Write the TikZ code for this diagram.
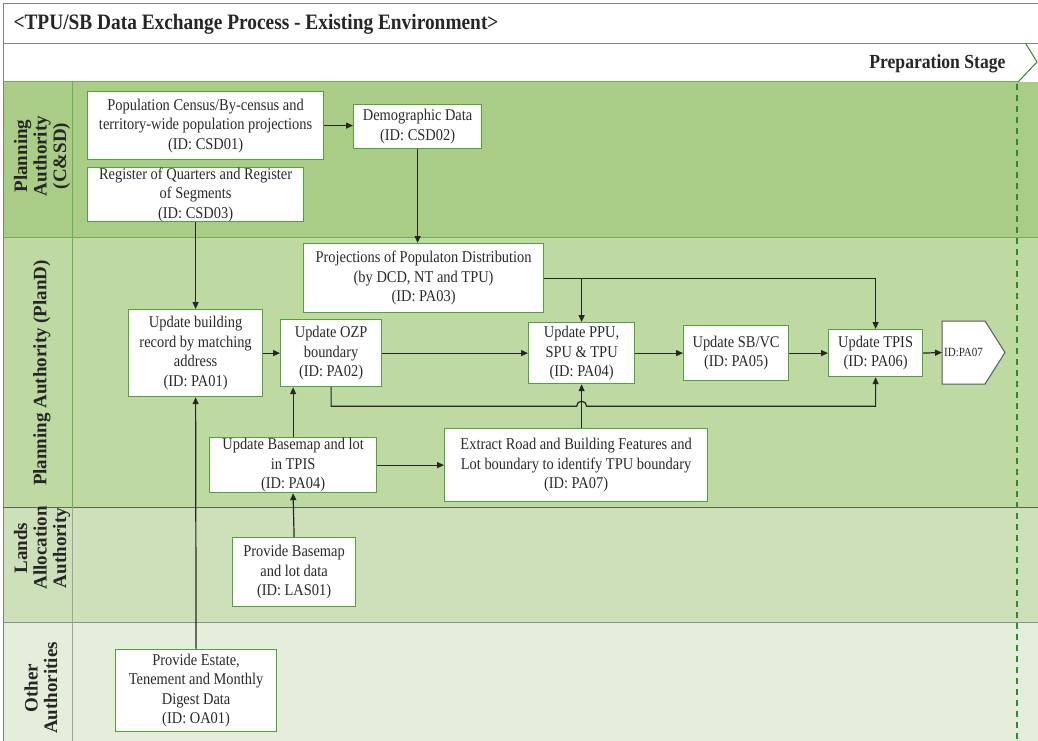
\documentclass[tikz,border=0pt]{standalone}
\usepackage{fontspec}
\setmainfont{Liberation Serif}
\newfontfamily\narrowserif[FakeStretch=0.88]{Liberation Serif}
\usetikzlibrary{arrows.meta,calc}

\definecolor{laneA}{HTML}{A9CC86}
\definecolor{laneB}{HTML}{BFD9A3}
\definecolor{laneC}{HTML}{CDE0B9}
\definecolor{laneD}{HTML}{E4EEDB}
\definecolor{boxline}{HTML}{4FA33A}
\definecolor{sepgreen}{HTML}{6BAF4F}
\definecolor{sepgray}{HTML}{5A6A50}
\definecolor{ink}{HTML}{262626}
\definecolor{txt}{HTML}{2A2A2A}
\definecolor{dashgreen}{HTML}{2E8B2E}

\begin{document}
\begin{tikzpicture}[x=1pt,y=-1pt,
  procbox/.style={draw=boxline, line width=1.2pt, fill=white, inner sep=0pt,
    align=center, text=txt, anchor=north west,
    font=\narrowserif\fontsize{16.4}{19.5}\selectfont},
  lanelabel/.style={rotate=90, align=center, text=black!85,
    font=\bfseries\fontsize{19}{19.5}\selectfont},
  arr/.style={draw=ink, line width=1.2pt, -{Triangle[length=7pt,width=6pt]}},
  plain/.style={draw=ink, line width=1.2pt}]

\useasboundingbox (0,0) rectangle (1038,741);
\fill[white] (0,0) rectangle (1038,741);

% swimlane backgrounds
\fill[laneA] (3,82) rectangle (1038,237);
\fill[laneB] (3,237) rectangle (1038,507);
\fill[laneC] (3,507) rectangle (1038,622);
\fill[laneD] (3,622) rectangle (1038,741);

% frame, header rows and lane separators
\draw[gray, line width=1pt] (3,741) -- (3,4) -- (1038,4);
\draw[gray, line width=1pt] (3,44) -- (1038,44);
\draw[sepgreen, line width=1pt] (3,82) -- (1018,82);
\draw[sepgreen, line width=1pt] (3,237) -- (1038,237);
\draw[sepgray, line width=1pt] (3,507) -- (1038,507);
\draw[sepgray!70, line width=0.8pt] (3,622) -- (1038,622);
\draw[sepgreen, line width=0.8pt] (72,82) -- (72,507);
\draw[sepgray!60, line width=0.8pt] (72,507) -- (72,741);

% stage chevron and stage boundary
\draw[dashgreen, line width=1pt] (1026,44) -- (1037,62) -- (1018,82);
\draw[dashgreen, line width=1.5pt, dash pattern=on 6pt off 5pt] (1017,84) -- (1017,741);

% header texts
\node[anchor=west, font=\narrowserif\bfseries\fontsize{22}{22}\selectfont, text=black!85] (title) at (10,24)
  {<TPU/SB Data Exchange Process - Existing Environment>};
\node[anchor=east, font=\narrowserif\bfseries\fontsize{20}{20}\selectfont, text=black!85] (stage) at (1009,64)
  {Preparation Stage};

% lane labels
\node[lanelabel] (laneA) at (42,156) {Planning\\Authority\\(C\&SD)};
\node[lanelabel] (laneB) at (42,373) {Planning Authority (PlanD)};
\node[lanelabel] (laneC) at (42,548) {Lands\\Allocation\\Authority};
\node[lanelabel] (laneD) at (41,688) {Other\\Authorities};

% process boxes
\node[procbox, minimum width=236, minimum height=68] (csd01) at (87,91)
  {Population Census/By-census and\\territory-wide population projections\\(ID: CSD01)};
\node[procbox, minimum width=128, minimum height=44] (csd02) at (353,104)
  {Demographic Data\\(ID: CSD02)};
\node[procbox, minimum width=216, minimum height=54] (csd03) at (87,167)
  {Register of Quarters and Register\\of Segments\\(ID: CSD03)};
\node[procbox, minimum width=240, minimum height=69] (pa03) at (303,243)
  {Projections of Populaton Distribution\\(by DCD, NT and TPU)\\(ID: PA03)};
\node[procbox, minimum width=134, minimum height=87] (pa01) at (128,309)
  {Update building\\record by matching\\address\\(ID: PA01)};
\node[procbox, minimum width=101, minimum height=67] (pa02) at (280,319)
  {Update OZP\\boundary\\(ID: PA02)};
\node[procbox, minimum width=106, minimum height=61] (pa04) at (528,322)
  {Update PPU,\\SPU \& TPU\\(ID: PA04)};
\node[procbox, minimum width=105, minimum height=55] (pa05) at (683,325)
  {Update SB/VC\\(ID: PA05)};
\node[procbox, minimum width=94, minimum height=47] (pa06) at (828,329)
  {Update TPIS\\(ID: PA06)};
\node[procbox, minimum width=167, minimum height=55] (pa04b) at (209,437)
  {Update Basemap and lot\\in TPIS\\(ID: PA04)};
\node[procbox, minimum width=263, minimum height=73] (pa07) at (444,428)
  {Extract Road and Building Features and\\Lot boundary to identify TPU boundary\\(ID: PA07)};
\node[procbox, minimum width=123, minimum height=69] (las01) at (232,537)
  {Provide Basemap\\and lot data\\(ID: LAS01)};
\node[procbox, minimum width=161, minimum height=82] (oa01) at (115,649)
  {Provide Estate,\\Tenement and Monthly\\Digest Data\\(ID: OA01)};

% off-page connector
\coordinate (tagc) at (963.5,352.5);
\draw[fill=white, draw=black!65, line width=1pt]
  ($(tagc)+(-21.5,-31.5)$) -- ($(tagc)+(21.5,-31.5)$) -- ($(tagc)+(41.5,0)$)
  -- ($(tagc)+(21.5,31.5)$) -- ($(tagc)+(-21.5,31.5)$) -- cycle;
\node[inner sep=0pt, font=\narrowserif\fontsize{12.5}{12.5}\selectfont, text=txt] (tag) at (tagc) {ID:PA07};

% connectors in the C&SD lane
\draw[arr] (csd01.east) -- (csd02.west |- csd01.east);
\draw[arr] (csd02.south) -- (csd02.south |- pa03.north);
\draw[arr] (csd03.south) -- (pa01.north);

% connectors in the PlanD lane
\draw[plain] (pa03.east) -- (pa06.north |- pa03.east);
\draw[arr] (pa06.north |- pa03.east) -- (pa06.north);
\draw[arr] (pa04.north |- pa03.east) -- (pa04.north);
\draw[arr] (pa01.east) -- (pa02.west);
\draw[arr] (pa02.east) -- (pa04.west);
\draw[arr] (pa04.east) -- (pa05.west);
\draw[arr] (pa05.east) -- (pa06.west);
\draw[arr] (pa06.east) -- ($(tagc)+(-21.5,0)$);
\draw[arr] (pa02.south) -- ++(0,19) coordinate (lowbus)
  -- ($(pa04.south |- lowbus)+(-5,0)$) arc[start angle=180, end angle=360, radius=5]
  -- (pa06.south |- lowbus) -- (pa06.south);
\draw[arr] (pa04.south |- pa07.north) -- (pa04.south);
\draw[arr] (pa04b.north) -- (pa04b.north |- pa02.south);
\draw[arr] (pa04b.east) -- (pa07.west);

% connectors from the supporting authorities
\draw[arr] (las01.north) -- (pa04b.south);
\draw[arr] (oa01.north) -- (pa01.south);

\end{tikzpicture}
\end{document}
